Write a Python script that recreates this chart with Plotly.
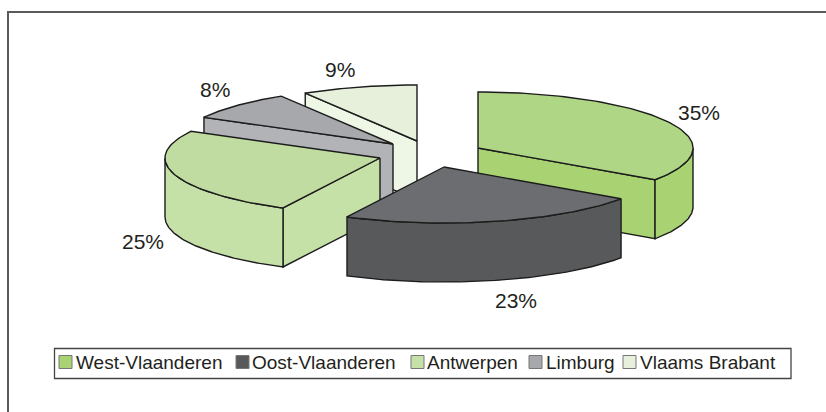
import numpy as np
import plotly.graph_objects as go

# --- data ---
regions = ["West-Vlaanderen", "Oost-Vlaanderen", "Antwerpen", "Limburg", "Vlaams Brabant"]
shares = [34.6, 22.85, 25.45, 8.4, 8.7]

# --- styles / layout ---
top_colors = ["#AFD684", "#6C6D70", "#C1DCA0", "#A7A8AC", "#E6F0DB"]
side_colors = ["#A9D373", "#58595B", "#C5E1A8", "#B2B3B7", "#EEF6E6"]
swatch_colors = ["#A9D373", "#58595B", "#C5E1A8", "#A7A8AC", "#E6F0DB"]
apex_x = [478, 444, 380, 393, 417]
apex_y = [148, 167, 158, 144, 141]
label_x = [699, 516, 143, 215, 340]
label_y = [112, 300, 241, 89, 69]
swatch_x = [65.5, 242.5, 417.5, 535.5, 629.5]
legend_text_x = [76, 252, 427, 546, 640]
draw_order = [4, 3, 2, 0, 1]
RX, RY, H = 215, 56, 59
EDGE = "#1c1c1c"

fig = go.Figure()


def poly(xs, ys, color, name):
    fig.add_trace(go.Scatter(
        x=xs, y=ys, mode="lines", fill="toself", fillcolor=color,
        line=dict(color=EDGE, width=1.4), name=name,
        showlegend=False, hoverinfo="name"))


def arc(ax, ay, d0, d1):
    t = np.radians(np.linspace(d0, d1, 80))
    return ax + RX * np.sin(t), ay - RY * np.cos(t)


starts = np.cumsum([0] + shares[:-1]) * 3.6
for i in draw_order:
    a0 = float(starts[i])
    a1 = a0 + shares[i] * 3.6
    ax, ay = apex_x[i], apex_y[i]
    # visible straight cut faces
    for ang, visible in ((a0, np.sin(np.radians(a0)) < -1e-6), (a1, np.sin(np.radians(a1)) > 1e-6)):
        if visible:
            ex, ey = arc(ax, ay, ang, ang)
            ex, ey = float(ex[0]), float(ey[0])
            poly([ax, ex, ex, ax, ax], [ay, ey, ey + H, ay + H, ay], side_colors[i], regions[i])
    # outer wall (front half of the ellipse)
    w0, w1 = max(a0, 90), min(a1, 270)
    if w1 > w0:
        wx, wy = arc(ax, ay, w0, w1)
        poly(list(wx) + list(wx[::-1]) + [wx[0]],
             list(wy) + list(wy[::-1] + H) + [wy[0]],
             side_colors[i], regions[i])
    # top face
    tx, ty = arc(ax, ay, a0, a1)
    poly([ax] + list(tx) + [ax], [ay] + list(ty) + [ay], top_colors[i], regions[i])

# data labels
for i, v in enumerate(shares):
    fig.add_annotation(x=label_x[i], y=label_y[i], text=f"{round(v)}%", showarrow=False,
                       font=dict(size=21, color="#231F20"), xanchor="center", yanchor="middle")

# legend
fig.add_shape(type="rect", x0=54.5, x1=791, y0=348.5, y1=378.5,
              line=dict(color="#444444", width=1.3), fillcolor="rgba(0,0,0,0)", layer="below")
fig.add_trace(go.Scatter(
    x=swatch_x, y=[362] * 5, mode="markers", showlegend=False, hoverinfo="skip",
    marker=dict(symbol="square", size=13, color=swatch_colors, line=dict(color="#777777", width=1))))
for i, name in enumerate(regions):
    fig.add_annotation(x=legend_text_x[i], y=362, text=name, showarrow=False, xanchor="left",
                       yanchor="middle", xshift=-2, font=dict(size=19, color="#231F20"))

# frame
fig.add_shape(type="line", x0=8, x1=8, y0=12, y1=412, line=dict(color="#5a5a5a", width=2))
fig.add_shape(type="line", x0=7, x1=826, y0=12, y1=12, line=dict(color="#5a5a5a", width=2))

fig.update_layout(
    width=826, height=412, margin=dict(l=0, r=0, t=0, b=0),
    paper_bgcolor="white", plot_bgcolor="white", showlegend=False,
    font=dict(family="Liberation Sans, Arial, sans-serif"),
    xaxis=dict(range=[0, 826], visible=False, fixedrange=True),
    yaxis=dict(range=[412, 0], visible=False, fixedrange=True),
)
fig.write_html("out.html", config={"displayModeBar": False},
               post_script="document.body.style.margin='0';document.body.style.overflow='hidden';")
